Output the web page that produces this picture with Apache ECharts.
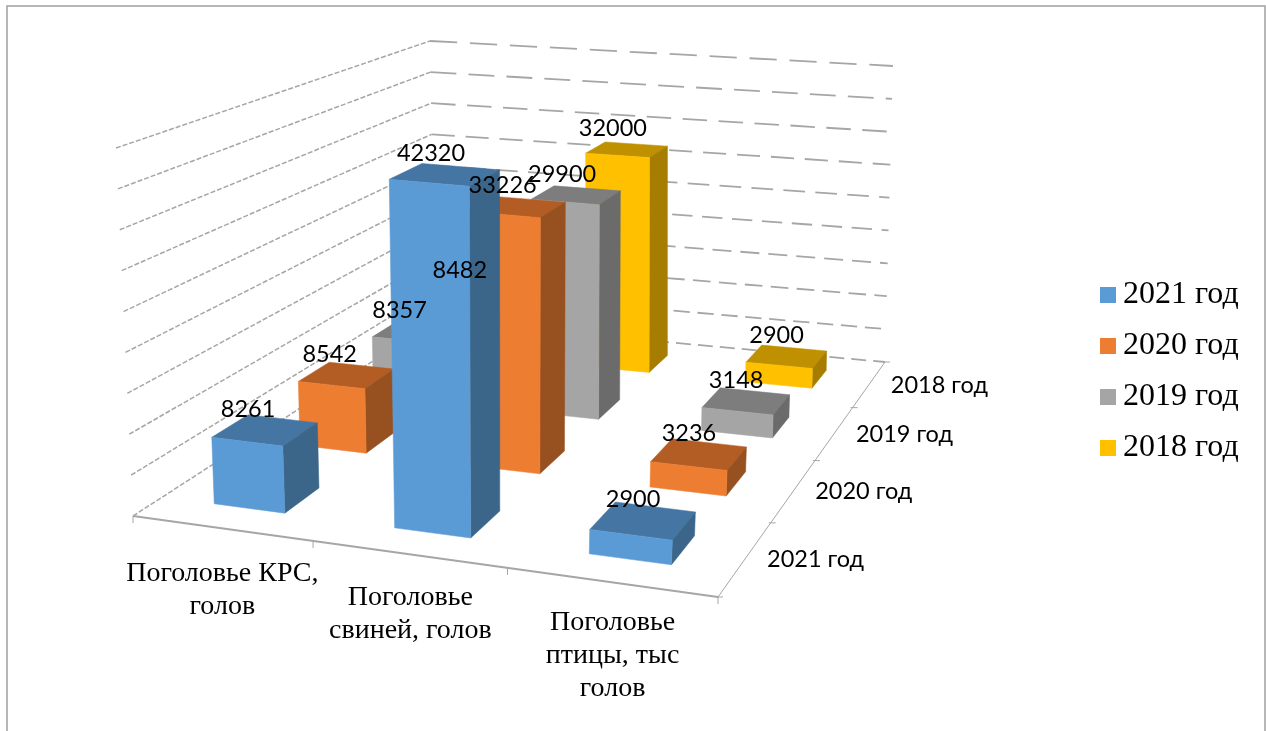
<!DOCTYPE html>
<html><head><meta charset="utf-8">
<style>html,body{margin:0;padding:0;background:#fff}#c{width:1266px;height:731px}</style>
<script src="https://cdn.jsdelivr.net/npm/echarts@6/dist/echarts.min.js"></script>
</head><body><div id="c"></div>
<script>
const categories = ['Поголовье КРС,\nголов', 'Поголовье\nсвиней, голов', 'Поголовье\nптицы, тыс\nголов'];
const years = ['2021 год', '2020 год', '2019 год', '2018 год'];
const values2021 = [8261, 42320, 2900];
const values2020 = [8542, 33226, 3236];
const values2019 = [8357, 29900, 3148];
const values2018 = [8482, 32000, 2900];
const valueTicks = [0, 5000, 10000, 15000, 20000, 25000, 30000, 35000, 40000, 45000];

const seriesValues = [values2021, values2020, values2019, values2018];
const faceColors = [
  {front:'#5B9BD5', side:'#3B6589', top:'#4575A2'},
  {front:'#ED7D31', side:'#97501F', top:'#B35D24'},
  {front:'#A5A5A5', side:'#6B6B6B', top:'#7D7D7D'},
  {front:'#FFC000', side:'#A67D00', top:'#BF9000'}
];
// the box the 3D view is drawn in: floor and ceiling corners (front-left, front-right, back-right, back-left)
const floorQuad = [[133,516],[718,597],[885,362],[435,321]];
const ceilQuad  = [[116,148],[738,202],[893,66],[430,41]];
const BAR_A = 0.3, BAR_B = 0.7;
const labelShiftX = [-17,-14,-10];

function homography(q){
  const [[x0,y0],[x1,y1],[x2,y2],[x3,y3]] = q;
  const dx1=x1-x2, dx2=x3-x2, dx3=x0-x1+x2-x3, dy1=y1-y2, dy2=y3-y2, dy3=y0-y1+y2-y3;
  const det=dx1*dy2-dx2*dy1, g=(dx3*dy2-dx2*dy3)/det, h=(dx1*dy3-dx3*dy1)/det;
  const a=x1-x0+g*x1, b=x3-x0+h*x3, d=y1-y0+g*y1, e=y3-y0+h*y3;
  return (u,w)=>{const k=g*u+h*w+1; return [(a*u+b*w+x0)/k,(d*u+e*w+y0)/k];};
}
const floorAt = homography(floorQuad), ceilAt = homography(ceilQuad);
function project(u,w,t){
  const f=floorAt(u,w), c=ceilAt(u,w);
  return [f[0]+(c[0]-f[0])*t, f[1]+(c[1]-f[1])*t];
}
const nCat = categories.length, nDepth = years.length, vMax = valueTicks[valueTicks.length-1];
function height(api,v){
  const y0=api.coord([0,0])[1], y1=api.coord([0,vMax])[1];
  return (y0-api.coord([0,v])[1])/(y0-y1);
}
function poly(points,fill){return {type:'polygon',shape:{points},style:{fill,stroke:fill,lineWidth:0.5}};}
const LABEL_FONT = '23.5px Lato, Carlito, sans-serif';

function barRender(s){
  return function(params,api){
    const i=api.value(0), v=api.value(1);
    const t=height(api,v), u0=(i+BAR_A)/nCat, u1=(i+BAR_B)/nCat, w0=(s+BAR_A)/nDepth, w1=(s+BAR_B)/nDepth;
    const c=faceColors[s];
    return {type:'group',children:[
      poly([project(u0,w0,t),project(u1,w0,t),project(u1,w1,t),project(u0,w1,t)],c.top),
      poly([project(u1,w0,0),project(u1,w1,0),project(u1,w1,t),project(u1,w0,t)],c.side),
      poly([project(u0,w0,0),project(u1,w0,0),project(u1,w0,t),project(u0,w0,t)],c.front)
    ]};
  };
}
function labelRender(s){
  return function(params,api){
    const i=api.value(0), v=api.value(1), t=height(api,v);
    const p=project((i+.5)/nCat,(s+.5)/nDepth,t);
    return {type:'text',style:{text:String(v),x:p[0]+labelShiftX[i],y:p[1]-21,font:LABEL_FONT,fill:'#000',align:'center',verticalAlign:'middle'}};
  };
}
function seg(a,b,style){return {type:'line',shape:{x1:a[0],y1:a[1],x2:b[0],y2:b[1]},style:Object.assign({stroke:'#A6A6A6',fill:null},style)};}
function wallRender(params,api){
  const t=height(api,api.value(1)), period=22+18*t;
  return {type:'group',children:[
    seg(project(0,0,t),project(0,1,t),{lineWidth:1.5,lineDash:[5,2]}),
    seg(project(0,1,t),project(1,1,t),{lineWidth:1.8,lineDash:[period*.68,period*.32]})
  ]};
}
function floorRender(){
  const kids=[seg(project(0,0,0),project(1,0,0),{lineWidth:1.8}),seg(project(1,0,0),project(1,1,0),{lineWidth:1})];
  for(let i=0;i<=nCat;i++){const p=project(i/nCat,0,0);kids.push(seg(p,[p[0],p[1]+7],{lineWidth:1}));}
  for(let j=0;j<=nDepth;j++){const p=project(1,j/nDepth,0);kids.push(seg([p[0]-2,p[1]],[p[0]+5,p[1]],{lineWidth:1}));}
  categories.forEach((c,i)=>{
    const p=project((i+.5)/nCat,0,0);
    kids.push({type:'text',style:{text:c,x:p[0]+[1,2,2][i],y:p[1]+[29,27,24][i],font:'28px "Liberation Serif", serif',lineHeight:33,fill:'#000',align:'center',verticalAlign:'top'}});
  });
  years.forEach((y,j)=>{
    const p=project(1,(j+.5)/nDepth,0);
    kids.push({type:'text',style:{text:y,x:p[0]+70,y:p[1]+1,font:LABEL_FONT,fill:'#000',align:'center',verticalAlign:'middle'}});
  });
  return {type:'group',children:kids};
}
const series=[];
series.push({type:'custom',name:'walls',coordinateSystem:'cartesian2d',z:1,silent:true,renderItem:wallRender,clip:false,
  data:valueTicks.map(v=>[0,v]),encode:{x:0,y:1}});
series.push({type:'custom',name:'axes',coordinateSystem:'cartesian2d',z:2,silent:true,renderItem:floorRender,clip:false,
  data:[[0,0]],encode:{x:0,y:1}});
years.forEach((y,s)=>{
  series.push({type:'custom',name:y,coordinateSystem:'cartesian2d',z:10-s,renderItem:barRender(s),clip:false,
    itemStyle:{color:faceColors[s].front},
    data:seriesValues[s].map((v,i)=>[i,v]),encode:{x:0,y:1}});
});
years.forEach((y,s)=>{
  series.push({type:'custom',name:'labels '+y,coordinateSystem:'cartesian2d',z:20,silent:true,renderItem:labelRender(s),clip:false,
    data:seriesValues[s].map((v,i)=>[i,v]),encode:{x:0,y:1}});
});
const chart=echarts.init(document.getElementById('c'),null,{renderer:'canvas'});
chart.setOption({
  animation:false,
  backgroundColor:'#fff',
  graphic:[{type:'polyline',silent:true,z:0,shape:{points:[[7,731],[7,6],[1265,6],[1265,731]]},style:{stroke:'#A0A0A0',lineWidth:1.5,fill:null}}],
  grid:{left:120,right:300,top:40,bottom:140},
  xAxis:{type:'category',data:categories,show:false},
  yAxis:{type:'value',min:0,max:vMax,interval:5000,show:false},
  tooltip:{show:false},
  legend:{data:years,orient:'vertical',left:1100,top:279,padding:0,icon:'rect',itemWidth:16,itemHeight:16,itemGap:19,
    textStyle:{fontFamily:'"Liberation Serif", serif',fontSize:32,color:'#000',padding:[0,0,0,2]},selectedMode:false},
  series
});
</script></body></html>
